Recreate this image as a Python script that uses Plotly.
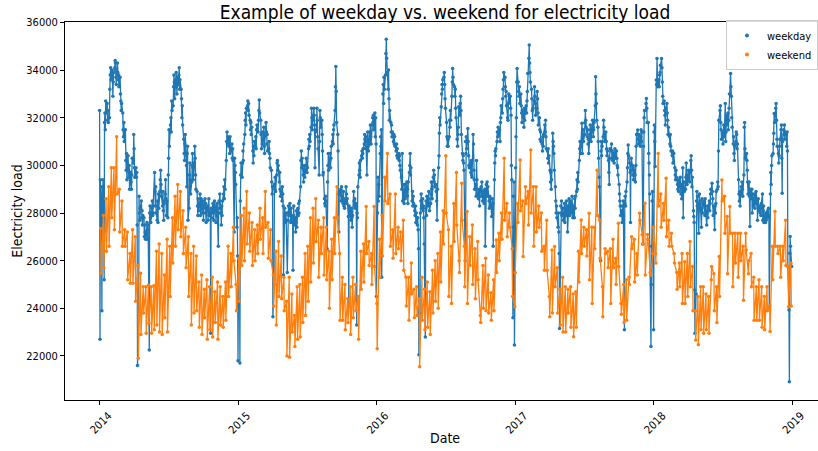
import datetime as dt
import plotly.graph_objects as go

# Daily electricity load (MW), split per calendar year into weekday and weekend days
weekday_2014 = [
    32300, 22700, 29400,
    28200, 23900, 29100, 28600, 29400,
    25200, 31800, 32200, 31500, 32700,
    32200, 32600, 31900, 32300, 31800,
    32000, 33200, 33800, 34100, 33600,
    34000, 33600, 32900, 33500, 33900,
    34100, 34400, 34300, 33700, 33400,
    34300, 33900, 33600, 33800, 33300,
    33700, 33000, 32700, 32300, 32600,
    32200, 31500, 31200, 31800, 31000,
    31500, 30200, 29800, 30500, 29400,
    30400, 29800, 29500, 30000, 29000,
    29700, 29300, 29000, 29600, 30300,
    30100, 31300, 30700, 29900, 29500,
    29900, 29500, 29700, 27500, 21600,
    23700, 28700, 28000, 27700, 28200,
    28500, 27800, 28100, 27500, 27900,
    27800, 27000, 27500, 27200, 26900,
    27200, 27600, 26900, 27300, 27500,
    22250, 28000, 28300, 27800, 27600,
    28200, 28500, 27900, 28300, 28000,
    29700, 28900, 28300, 29100, 28000,
    27700, 28500, 27600, 28800, 28200,
    28900, 29400, 29800, 29200, 28700,
    28300, 28900, 28100, 27700, 28400,
    28800, 29400, 28600, 27900, 28500,
    27800, 29600, 30300, 31500, 30800,
    31700, 32000, 31400, 32700, 32300,
    32500, 33300, 33800, 33500, 32800,
    33600, 33900, 33300, 33000, 33700,
    33400, 33800, 34100, 33200, 33600,
    33200, 32800, 32000, 32500, 31700,
    31100, 30500, 30200, 30900, 31300,
    30000, 29100, 30500, 30800, 27700,
    28200, 29600, 30100, 29400, 28800,
    29300, 30000, 30500, 29900, 29400,
    30100, 30800, 30300, 29600, 29000,
    28900, 28300, 27900, 28600, 28100,
    28400, 28800, 27900, 28300, 28600,
    28000, 28500, 28200, 27700, 28300,
    28600, 28000, 28400, 27600, 28200,
    28300, 27700, 28100, 28600, 27900,
    28000, 22950, 28200, 27800, 28100,
    28400, 28000, 27700, 28200, 28500,
    28100, 27600, 28300, 27900, 28400,
    26600, 28000, 28500, 28200, 28800,
    28000, 27500, 28300, 27900, 28500,
    28800, 29100, 28600, 29400, 29000,
    30200, 31000, 31400, 30900, 31200,
    30800, 31100, 30500, 31200, 30700,
    30600, 30900, 30300, 30700, 30200,
    27200, 30300, 30000, 29700, 29200,
    27400, 27800, 26200,
]
weekend_2014 = [
    27350, 25470, 27900, 25700, 28600, 26400, 29100, 26600, 29900, 27800,
    29900, 27300, 31200, 28800, 29000, 27200, 28500, 26600, 27300, 26600,
    27200, 25200, 26300, 25050, 27300, 25050, 27000, 24300, 25800, 21900,
    25470, 22900, 24900, 23800, 24900, 22950, 24980, 23370, 24900, 22950,
    24950, 23100, 26400, 23300, 26700, 23000, 26300, 22900, 25400, 23600,
    26900, 23000, 26600, 24500, 27800, 25900, 28700, 26600, 29200, 27300,
    28900, 27000, 28100, 26300, 27400, 25700, 27000, 24500, 26300, 23300,
    26600, 23800, 26200, 23900, 25100, 23200, 25400, 22900, 24800, 23600,
    25200, 22700, 24900, 23100, 25300, 22800, 24700, 23400, 25100, 22700,
    24900, 23300, 24500, 23200, 25100, 23500, 26600, 24500, 26300, 24900,
    27400, 26000, 25000, 23900,
]

weekday_2015 = [
    21800, 24500,
    25800, 21700, 28500, 29600, 30100,
    29500, 30100, 30600, 30200, 30900,
    31300, 31900, 32200, 31700, 32400,
    32500, 32700, 32300, 32600, 32100,
    31900, 31500, 31800, 31300, 31600,
    30600, 30100, 30800, 30400, 31000,
    30800, 31200, 30700, 31500, 31700,
    31400, 31900, 32300, 32750, 32200,
    31900, 31300, 30700, 31400, 30900,
    31100, 31600, 30800, 30500, 31200,
    31800, 31400, 30900, 31300, 30600,
    30700, 31000, 30500, 30300, 29900,
    29800, 29300, 28800, 29100, 23650,
    25000, 29200, 29000, 29500, 28900,
    29600, 30100, 30200, 29800, 30000,
    29300, 29700, 29000, 28700, 28900,
    28500, 29100, 28800, 28300, 25400,
    28200, 27900, 27600, 28000, 27700,
    25500, 28000, 27700, 28300, 27900,
    28400, 28000, 27600, 28200, 27800,
    27600, 25600, 27900, 28300, 27500,
    27800, 27200, 27600, 28100, 27400,
    28200, 27900, 28400, 28000, 28500,
    29100, 30200, 30600, 29900, 30300,
    29600, 29300, 29800, 30000, 29500,
    29800, 30300, 30000, 29700, 29900,
    30700, 31100, 30800, 31300, 31000,
    31600, 32400, 32000, 31500, 31900,
    32400, 32100, 31700, 29900, 31400,
    31500, 32400, 31900, 31200, 30700,
    29600, 31000, 32300, 32000, 31600,
    31900, 31300, 30600, 29600, 29700,
    28600, 28400, 28300, 28700, 28500,
    26500, 29300, 30000, 30500, 29800,
    30200, 30500, 29900, 30300, 30800,
    31000, 31300, 30900, 31500, 31700,
    32300, 33300, 34150, 33100, 31800,
    31300, 30600, 28800, 27200, 28900,
    28800, 29000, 28500, 29100, 28700,
    28400, 28900, 28300, 28600, 28200,
    28500, 29100, 28800, 28400, 28600,
    27850, 24100, 28300, 27900, 28100,
    27700, 28200, 27800, 27400, 27900,
    28900, 28500, 28300, 28600, 28200,
    28400, 23300, 28000, 27800, 29100,
    29600, 30100, 29800, 29500, 30200,
    30400, 30600, 30300, 30500, 30700,
    30900, 31300, 31100, 30700, 31200,
    29600, 31000, 31400, 30800, 30600,
    31400, 30900, 31700, 31200, 30900,
    31700, 32000, 31800, 32100, 31500,
    32200, 31200, 32000, 30900,
]
weekend_2015 = [
    26100, 24300, 27900, 25800, 28200, 26000, 28900, 26700, 28000, 26400,
    27600, 25800, 27300, 26000, 27500, 26300, 28200, 26900, 27800, 26300,
    28900, 27400, 27600, 26100, 27300, 26000, 25400, 24100, 26400, 23300,
    26800, 24500, 26200, 24400, 25300, 23900, 24300, 22000, 25300, 21950,
    24600, 23000, 23700, 22400, 24900, 22700, 25000, 22800, 25300, 23400,
    26300, 23700, 26600, 24300, 27800, 25100, 28200, 25900, 28600, 26800,
    27700, 25300, 27400, 26300, 27800, 25400, 27400, 25200, 26400, 24000,
    26900, 25200, 27800, 26300, 29100, 27800, 26300, 23500, 25300, 23500,
    25000, 23100, 24400, 23400, 24900, 22900, 25300, 23600, 25000, 23900,
    24500, 22700, 26400, 24800, 26700, 25100, 28270, 26300, 26800, 25800,
    26300, 25000, 28270, 25750,
]

weekday_2016 = [
    24500,
    28000, 29500, 28500, 29200, 28700,
    30500, 31200, 30800, 31500, 25300,
    33000, 33400, 32600, 33700, 33200,
    33800, 34700, 35300, 34500, 33900,
    33200, 34000, 32800, 31900, 32300,
    31800, 31400, 31700, 31200, 31400,
    31000, 31300, 30900, 31200, 30800,
    30600, 30900, 30400, 30700, 30300,
    30500, 30200, 30400, 30000, 29800,
    29500, 29000, 30500, 28500, 29200,
    28400, 28900, 29200, 28600, 28900,
    29300, 28700, 29000, 28400, 29300,
    29700, 30000, 30500, 29600, 29900,
    28500, 28900, 28300, 28700, 28400,
    28100, 27900, 28300, 27600, 28000,
    27500, 27800, 27300, 26500, 22050,
    23800, 28000, 28500, 28800, 28200,
    28600, 28100, 28300, 27800, 26700,
    22800, 28200, 28500, 27900, 28700,
    28300, 28600, 28900, 28400, 28100,
    28400, 28800, 29300, 29000, 28600,
    29500, 29800, 29300, 29600, 29100,
    29200, 28900, 28500, 27700, 29000,
    29900, 30400, 31350, 32000, 31700,
    32460, 33000, 33400, 33200, 33600,
    33700, 33900, 33400, 32800, 32400,
    31800, 31200, 30800, 31100, 30800,
    31200, 31900, 31600, 32300, 31900,
    32900, 33500, 34070, 33700, 33400,
    33300, 32900, 33200, 32400, 32000,
    31100, 30800, 31300, 31600, 32460,
    32100, 32600, 32900, 32300, 31300,
    30500, 30200, 30400, 30100, 29800,
    26000, 31000, 30500, 31200, 30700,
    31550, 31000, 30400, 30000, 29900,
    30100, 29700, 30200, 29600, 29500,
    31300, 30900, 29800, 29400, 29000,
    29200, 28700, 30200, 29400, 28800,
    28600, 29000, 28700, 28300, 28900,
    29100, 28700, 29300, 28900, 28500,
    28900, 28400, 28800, 29000, 26600,
    29200, 28900, 29300, 28700, 29100,
    28500, 28200, 28700, 28300, 28600,
    27850, 28300, 28600, 28400, 26600,
    29400, 30100, 30600, 30400, 30700,
    31000, 31400, 31200, 31600, 31300,
    31500, 31000, 31800, 32000, 32500,
    32200, 32800, 33200, 33600, 33900,
    33700, 33300, 32900, 33100, 32500,
    32000, 31900, 32600, 33000, 32700,
    32900, 32400, 32100, 30000, 29400,
    23600, 28700, 27400, 29300, 22460,
]
weekend_2016 = [
    24200, 22300, 26900, 25300, 27900, 26200, 29500, 28500, 30500, 28400,
    28800, 26600, 27300, 26100, 28800, 26300, 27400, 26500, 27200, 26000,
    27700, 25600, 25300, 24100, 25300, 23500, 25900, 24600, 24800, 23600,
    24900, 23700, 24400, 21550, 25300, 23500, 24800, 23100, 25100, 23200,
    24700, 22900, 25600, 23800, 26000, 24300, 26300, 24000, 27200, 25100,
    28100, 26700, 30400, 28000, 27300, 24500, 26600, 24200, 28400, 26800,
    29700, 27500, 26000, 25500, 29250, 27700, 26600, 24900, 28060, 24200,
    27000, 25800, 27500, 25000, 26500, 24400, 26800, 25200, 23700, 23400,
    25800, 24000, 26100, 23900, 25400, 23800, 24650, 23500, 25200, 23900,
    26870, 25500, 27150, 26000, 28000, 26900, 30300, 27700, 28400, 27000,
    28000, 27400, 26500, 24500, 24070,
]

weekday_2017 = [
    29900, 31200, 32000, 33500, 34070,
    33500, 33100, 32900, 33300, 32600,
    33000, 32500, 32200, 31800, 32300,
    32000, 31600, 32400, 31900, 32200,
    32500, 32200, 32700, 33100, 33860,
    34500, 35050, 34300, 33900, 33500,
    33200, 32800, 32300, 31900, 32400,
    32700, 33300, 32900, 32600, 32100,
    32400, 33100, 32800, 32200, 31700,
    32000, 31500, 31100, 31400, 31000,
    30900, 30600, 31200, 30800, 31300,
    31700, 31400, 31900, 31200, 30700,
    30600, 30300, 30700, 30100, 30400,
    29800, 29300, 29700, 29000, 29400,
    31350, 31000, 30800, 30500, 29800,
    29100, 28500, 28000, 28300, 27800,
    27400, 28000, 27200, 26300, 23150,
    28300, 28000, 28500, 27900, 28200,
    27700, 28200, 27900, 28400, 27600,
    28100, 28500, 27900, 28300, 27200,
    28200, 28600, 28300, 27900, 28500,
    28000, 28400, 28700, 28100, 27800,
    28300, 27800, 28600, 28200, 28700,
    28900, 29400, 29000, 29700, 29300,
    30200, 30700, 31000, 30500, 30800,
    31770, 30500, 31200, 31500, 31000,
    31300, 31800, 32300, 31900, 31600,
    31200, 31500, 30900, 31100, 30500,
    31300, 31700, 31500, 31000, 31400,
    31900, 31600, 31200, 31500, 31800,
    32500, 33720, 33000, 32600, 31900,
    31600, 31000, 30300, 29500, 29100,
    26000, 30600, 31000, 30400, 30800,
    31200, 31900, 31600, 31300, 31000,
    31400, 31000, 30700, 30400, 30600,
    30200, 29700, 29200, 30300, 30700,
    30600, 30900, 30300, 30600, 30200,
    30500, 30100, 30400, 30700, 30300,
    30600, 30300, 30000, 29900, 29600,
    29200, 28800, 28500, 28300, 27900,
    28100, 27600, 28300, 27900, 28500,
    23100, 28400, 28700, 28300, 28900,
    29300, 29900, 30500, 30860, 30400,
    30100, 29700, 27600, 29800, 30300,
    30000, 29600, 29900, 29400, 29800,
    29600, 29300, 30000, 30800, 31300,
    31490, 31100, 30900, 31300, 31000,
    30800, 31200, 31500, 31000, 31400,
    26700, 30800, 31400, 32000, 32300,
    32300, 32600, 32810, 32400, 31800,
    31800, 30500, 30100, 29600, 28800,
    22400, 25000, 26600, 28500, 28900,
]
weekend_2017 = [
    25500,
    28400, 27600, 30230, 28100, 28500, 26170, 29100, 28400, 28900, 27500,
    30650, 28000, 29100, 26600, 29100, 27200, 28300, 27400, 28000, 26400,
    26600, 25600, 27700, 25600, 24500, 23650, 26450, 23800, 26590, 24900,
    25700, 23800, 24800, 23300, 25300, 23000, 24900, 23000, 24800, 23800,
    24900, 23200, 24600, 22810, 24700, 23200, 26400, 25100, 27710, 26300,
    27400, 26600, 27300, 26200, 27990, 25200, 27400, 24200, 27400, 26500,
    29800, 27900, 27700, 26100, 24900, 23650, 26500, 26300, 26400, 25700,
    26500, 24200, 26900, 25700, 26100, 25000, 27570, 25750, 24200, 23750,
    25000, 23400, 25200, 23500, 25300, 25000, 27000, 26500, 26900, 25100,
    26300, 25400, 27990, 27700, 27100, 26700, 28410, 25400, 27100, 26900,
    25500, 25400, 26300, 27400,
]

weekday_2018 = [
    23100, 31400, 31700, 31000, 29950,
    33580, 33400, 34490, 33600, 33300,
    33600, 33300, 33800, 33900, 34200,
    34490, 34100, 33500, 32900, 32600,
    32700, 32300, 32100, 31700, 32400,
    32600, 32200, 31900, 31300, 31600,
    31200, 30900, 31300, 30800, 30600,
    30400, 30600, 30100, 30500, 30510,
    29900, 29600, 29400, 29800, 29500,
    29200, 29000, 29400, 28900, 29100,
    29500, 29100, 28800, 29200, 28600,
    29900, 27800, 29000, 29300, 28900,
    29000, 29500, 30100, 29600, 29200,
    29500, 29800, 29400, 29700, 29300,
    30200, 30400, 29800, 29100, 29500,
    28100, 27850, 27600, 24770, 22950,
    24600, 28500, 28900, 28300, 28700,
    27150, 28400, 28800, 28100, 28500,
    27400, 28200, 28600, 28000, 28400,
    28300, 28500, 27900, 28600, 28100,
    27500, 28000, 28300, 27800, 28200,
    28500, 28100, 28400, 28800, 29000,
    29250, 28900, 28600, 27900, 28300,
    27300, 28300, 28000, 28400, 28900,
    29000, 29300, 29100, 30600, 31900,
    32300, 32500, 31800, 31500, 31100,
    31400, 30900, 31300, 31700, 31200,
    32600, 31000, 31400, 32100, 31700,
    32200, 31500, 31900, 32400, 33000,
    33860, 33300, 32900, 32000, 31600,
    30900, 31200, 30500, 30200, 30800,
    31000, 31400, 31300, 30700, 30900,
    29400, 28800, 28500, 28900, 28300,
    29100, 28800, 29300, 29000, 28700,
    29600, 31600, 31800, 30700, 30300,
    30500, 30200, 29800, 29300, 28800,
    29300, 28700, 27430, 29000, 28600,
    29000, 28000, 28800, 28600, 28300,
    28800, 28200, 28600, 28400, 28900,
    28500, 27700, 28300, 28600, 28100,
    28300, 28000, 28200, 27900, 28400,
    28800, 27700, 28100, 28300, 27600,
    27900, 27600, 28000, 27700, 27900,
    28100, 27800, 28200, 27900, 24070,
    28800, 29700, 29200, 30000, 30400,
    30500, 30900, 31350, 32180, 31800,
    32400, 32600, 31900, 31100, 30800,
    30500, 30100, 30400, 30800, 31100,
    31500, 31700, 30300, 28830, 31000,
    31500, 31300, 31700, 31100, 31400,
    31300, 30800, 31400, 30600, 25750,
    23930, 20920, 26310, 27010, 26600,
    25750,
]
weekend_2018 = [
    26300, 25900, 30500, 28300, 28800, 27400, 28400, 27700, 29460, 27000,
    27700, 26600, 27150, 26600, 26300, 25900, 25500, 24800, 25900, 24900,
    26300, 24200, 25950, 24200, 26300, 24500, 26800, 24900, 25750, 23900,
    23900, 22670, 24500, 22470, 24900, 23100, 24900, 22950, 24600, 23100,
    24500, 22950, 25200, 25750, 25450, 23900, 24900, 23400, 26170, 24500,
    29390, 28500, 28700, 27150, 27850, 25450, 28270, 27150, 27150, 24900,
    27150, 25900, 27150, 25300, 27150, 26000, 26600, 24340, 27150, 26450,
    25450, 26000, 26300, 24900, 25300, 23500, 24900, 23500, 25200, 23500,
    24900, 23200, 24500, 23100, 24900, 23900, 24100, 23030, 26600, 25200,
    28060, 26600, 26600, 26300, 26600, 25300, 26600, 26000, 27700, 25800,
    25750, 24070, 25900, 24100,
]

years = [2014, 2015, 2016, 2017, 2018]
weekday_values = [weekday_2014, weekday_2015, weekday_2016, weekday_2017, weekday_2018]
weekend_values = [weekend_2014, weekend_2015, weekend_2016, weekend_2017, weekend_2018]

x_ticks = ["2014", "2015", "2016", "2017", "2018", "2019"]

BLUE = "#1f77b4"
ORANGE = "#ff7f0e"
FONT = "DejaVu Sans Condensed, DejaVu Sans, sans-serif"


def split_year(year):
    first = dt.date(year, 1, 1)
    n = (dt.date(year + 1, 1, 1) - first).days
    days = [first + dt.timedelta(days=i) for i in range(n)]
    return [d for d in days if d.weekday() < 5], [d for d in days if d.weekday() >= 5]


wd_x, wd_y, we_x, we_y = [], [], [], []
for year, wd_vals, we_vals in zip(years, weekday_values, weekend_values):
    wd_days, we_days = split_year(year)
    assert len(wd_days) == len(wd_vals), (year, "weekday", len(wd_days), len(wd_vals))
    assert len(we_days) == len(we_vals), (year, "weekend", len(we_days), len(we_vals))
    wd_x += wd_days
    wd_y += wd_vals
    we_x += we_days
    we_y += we_vals

fig = go.Figure()
for name, xs, ys, color in [("weekday", wd_x, wd_y, BLUE), ("weekend", we_x, we_y, ORANGE)]:
    fig.add_trace(go.Scatter(
        x=xs, y=ys, mode="lines+markers", name=name, showlegend=False,
        line=dict(color=color, width=1.3),
        marker=dict(color=color, size=3.5),
    ))
# legend entries show the dot marker only
for name, color in [("weekday", BLUE), ("weekend", ORANGE)]:
    fig.add_trace(go.Scatter(
        x=[None], y=[None], mode="markers", name=name,
        marker=dict(color=color, size=4),
    ))

# span of the data padded by 5% on the left; the right side runs to the page edge
x_start = dt.datetime(2014, 1, 1) - dt.timedelta(days=91.25)
x_end = dt.datetime(2014, 1, 1) + dt.timedelta(days=1894.5)

fig.update_layout(
    width=818, height=451,
    margin=dict(l=65, r=0, t=22, b=51),
    paper_bgcolor="white", plot_bgcolor="white",
    font=dict(family=FONT, color="black", size=11),
    title=dict(
        text="Example of weekday vs. weekend for electricity load",
        x=445 / 818, xanchor="center", xref="container",
        y=1 - 12 / 451, yanchor="middle", yref="container",
        font=dict(size=19, color="black", family=FONT),
    ),
    legend=dict(
        x=1, xanchor="right", y=1.005, yanchor="top",
        bgcolor="rgba(255,255,255,0.85)", bordercolor="#cccccc", borderwidth=1,
        font=dict(size=11, family=FONT), itemwidth=30,
    ),
    xaxis=dict(
        type="date", range=[x_start, x_end],
        tickvals=[dt.datetime(int(t), 1, 1) for t in x_ticks], ticktext=x_ticks,
        tickangle=-45, tickfont=dict(size=11), ticklabelshift=9,
        showline=True, linecolor="black", linewidth=1, mirror=True,
        ticks="outside", ticklen=4, tickcolor="black",
        showgrid=False, zeroline=False,
    ),
    yaxis=dict(
        range=[20150, 36020],
        tickvals=list(range(22000, 36001, 2000)), tickformat="d",
        tickfont=dict(size=11),
        showline=True, linecolor="black", linewidth=1,
        ticks="outside", ticklen=4, tickcolor="black",
        showgrid=False, zeroline=False,
        title=dict(text="Electricity load", font=dict(size=14), standoff=0),
    ),
    annotations=[dict(
        text="Date", xref="paper", yref="paper",
        x=(445 - 65) / 753, y=(400 - 438) / 378,
        xanchor="center", yanchor="middle", showarrow=False,
        font=dict(size=14, color="black", family=FONT),
    )],
)

fig.write_html("out.html")
